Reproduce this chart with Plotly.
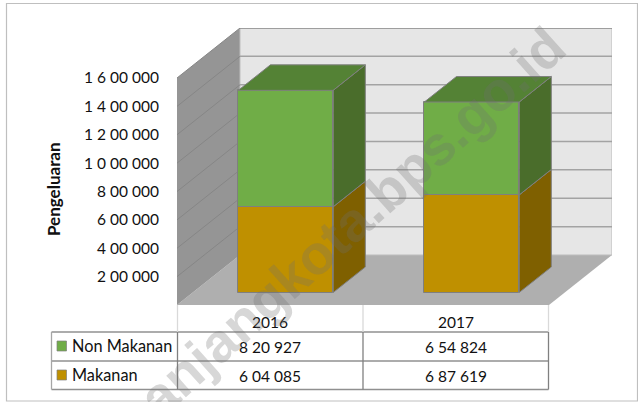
import plotly.graph_objects as go

# --- data ---
categories = ["2016", "2017"]
non_makanan = [820927, 654824]
makanan = [604085, 687619]
series_names = ["Non Makanan", "Makanan"]
non_makanan_labels = ["8 20 927", "6 54 824"]
makanan_labels = ["6 04 085", "6 87 619"]
tick_values = [200000, 400000, 600000, 800000, 1000000, 1200000, 1400000, 1600000]
tick_labels = ["2 00 000", "4 00 000", "6 00 000", "8 00 000", "1 0 00 000", "1 2 00 000", "1 4 00 000", "1 6 00 000"]
y_title = "Pengeluaran"
watermark = "anjangkota.bps.go.id"

# --- layout geometry ---
W, H = 638, 402
L, R, T, B = 177, 612, 28, 305
CAT_PX = 186.0
STEP_PX = 28.375
VAL_PER_PX = 200000 / STEP_PX
DX_PX, DY_PX = 63.0, 50.0
BAR_W = 0.51
D0, D1 = 0.25, 0.76
FONT = "Lato, Carlito, Calibri, sans-serif"

GREEN, GREEN_TOP, GREEN_SIDE = "#70AD47", "#548235", "#4A6D2B"
GOLD, GOLD_SIDE = "#BF9000", "#7F6000"
EDGE = "#7F7F7F"

xmin = -0.5
xmax = xmin + (R - L) / CAT_PX
ymax = (B - T) * VAL_PER_PX


def P(c, v, d):
    """Project (category position, value, depth) into the axis coordinates."""
    return c + d * DX_PX / CAT_PX, v + d * DY_PX * VAL_PER_PX


def px(x):
    return (x - L) / (R - L)


def py(y):
    return (B - y) / (B - T)


def poly_path(points):
    return "M " + " L ".join(f"{x},{y}" for x, y in points) + " Z"


def face(points, fill, name):
    return go.Scatter(
        x=[p[0] for p in points] + [points[0][0]],
        y=[p[1] for p in points] + [points[0][1]],
        mode="lines", fill="toself", fillcolor=fill,
        line=dict(color=EDGE, width=1), hoverinfo="skip", showlegend=False, name=name,
    )


shapes = []
# chart frame
shapes.append(dict(type="rect", xref="paper", yref="paper", x0=px(6.5), x1=px(637.5), y0=py(401), y1=py(3.5),
                   line=dict(color="#BFBFBF", width=1.2), fillcolor="rgba(0,0,0,0)", layer="below"))

# walls and floor
left_c, right_c = xmin, xmin + 2
shapes.append(dict(type="path", xref="x", yref="y", layer="below", fillcolor="#AFAFAF", line=dict(width=0),
                   path=poly_path([P(left_c, 0, 0), P(left_c, 0, 1), P(right_c, 0, 1), P(right_c, 0, 0)])))
shapes.append(dict(type="path", xref="x", yref="y", layer="below", fillcolor="#959595", line=dict(width=0),
                   path=poly_path([P(left_c, 0, 0), P(left_c, 0, 1), P(left_c, 1600000, 1), P(left_c, 1600000, 0)])))
shapes.append(dict(type="path", xref="x", yref="y", layer="below", fillcolor="#E6E6E6",
                   line=dict(color="#BDBDBD", width=1),
                   path=poly_path([P(left_c, 0, 1), P(right_c, 0, 1), P(right_c, 1600000, 1), P(left_c, 1600000, 1)])))
for i, v in enumerate(tick_values):
    x0, y0 = P(left_c, v, 0)
    x1, y1 = P(left_c, v, 1)
    x2, y2 = P(right_c, v, 1)
    shapes.append(dict(type="line", xref="x", yref="y", layer="below", x0=x0, y0=y0, x1=x1, y1=y1,
                       line=dict(color="#868686", width=1)))
    shapes.append(dict(type="line", xref="x", yref="y", layer="below", x0=x1, y0=y1, x1=x2, y1=y2,
                       line=dict(color="#8C8C8C" if v == 1600000 else "#A3A3A3", width=1.5)))

# data table grid
TABLE_X = [51.5, 177.5, 363, 548.5]
TABLE_Y = [332, 361, 389.5]
for y in TABLE_Y:
    shapes.append(dict(type="line", xref="paper", yref="paper", x0=px(TABLE_X[0]), x1=px(TABLE_X[-1]), y0=py(y), y1=py(y),
                       line=dict(color="#909090", width=1.3)))
shapes.append(dict(type="line", xref="paper", yref="paper", x0=px(TABLE_X[0]), x1=px(TABLE_X[0]), y0=py(332), y1=py(389.5),
                   line=dict(color="#A6A6A6", width=1.3)))
for x in TABLE_X[1:]:
    shapes.append(dict(type="line", xref="paper", yref="paper", x0=px(x), x1=px(x), y0=py(305), y1=py(332),
                       line=dict(color="#D9D9D9", width=1.3)))
    shapes.append(dict(type="line", xref="paper", yref="paper", x0=px(x), x1=px(x), y0=py(332), y1=py(389.5),
                       line=dict(color="#808080", width=1.3)))

# legend keys in the table
for cy, color in zip([346, 375], [GREEN, GOLD]):
    shapes.append(dict(type="rect", xref="paper", yref="paper", x0=px(57), x1=px(66.5), y0=py(cy - 5), y1=py(cy + 5),
                       fillcolor=color, line=dict(color=EDGE, width=0.7)))

fig = go.Figure()

xs = list(range(len(categories)))
totals = [m + n for m, n in zip(makanan, non_makanan)]
front_x = [P(c, 0, D0)[0] for c in xs]
base_shift = P(0, 0, D0)[1]

fig.add_trace(go.Bar(x=front_x, y=makanan, base=[base_shift] * 2, width=BAR_W, name=series_names[1],
                     marker=dict(color=GOLD, line=dict(color=EDGE, width=1)), showlegend=False))
fig.add_trace(go.Bar(x=front_x, y=non_makanan, base=[base_shift + m for m in makanan], width=BAR_W,
                     name=series_names[0], marker=dict(color=GREEN, line=dict(color=EDGE, width=1)), showlegend=False))

for c, m, t in zip(xs, makanan, totals):
    xl, xr = c - BAR_W / 2, c + BAR_W / 2
    fig.add_trace(face([P(xr, 0, D0), P(xr, m, D0), P(xr, m, D1), P(xr, 0, D1)], GOLD_SIDE, "Makanan side"))
    fig.add_trace(face([P(xr, m, D0), P(xr, t, D0), P(xr, t, D1), P(xr, m, D1)], GREEN_SIDE, "Non Makanan side"))
    fig.add_trace(face([P(xl, t, D0), P(xr, t, D0), P(xr, t, D1), P(xl, t, D1)], GREEN_TOP, "Non Makanan top"))

annotations = []
TXT = dict(family=FONT, size=15.5, color="#111111")
LEG = dict(family=FONT, size=16.3, color="#111111")
for c, a, b in zip(xs, non_makanan_labels, makanan_labels):
    annotations.append(dict(x=c, xref="x", y=py(346.5), yref="paper", text=a, showarrow=False, font=TXT,
                            xanchor="center", yanchor="middle"))
    annotations.append(dict(x=c, xref="x", y=py(375.5), yref="paper", text=b, showarrow=False, font=TXT,
                            xanchor="center", yanchor="middle"))
for cy, name in zip([346, 374.5], series_names):
    annotations.append(dict(x=px(69.5), xref="paper", y=py(cy), yref="paper", text=name, showarrow=False,
                            xanchor="left", yanchor="middle", font=LEG))
annotations.append(dict(x=px(53), xref="paper", y=py(189), yref="paper", text=f"<b>{y_title}</b>", showarrow=False,
                        textangle=-90, xanchor="center", yanchor="middle",
                        font=dict(family=FONT, size=17, color="#111111")))
annotations.append(dict(x=px(352), xref="paper", y=py(222), yref="paper", text=f"<b>{watermark}</b>", showarrow=False,
                        textangle=-42, xanchor="center", yanchor="middle",
                        font=dict(family="Liberation Sans, Arial, sans-serif", size=55,
                                  color="rgba(110,110,110,0.28)")))

fig.update_layout(
    width=W, height=H, autosize=False,
    margin=dict(l=L, r=W - R, t=T, b=H - B, pad=0),
    paper_bgcolor="white", plot_bgcolor="rgba(0,0,0,0)",
    barmode="overlay", bargap=0, showlegend=False,
    shapes=shapes, annotations=annotations,
    font=dict(family=FONT, size=15.5, color="#111111"),
    xaxis=dict(range=[xmin, xmax], tickmode="array", tickvals=xs, ticktext=categories,
               showgrid=False, zeroline=False, showline=False, ticks="outside", ticklen=3,
               tickcolor="rgba(0,0,0,0)", tickfont=TXT, fixedrange=True),
    yaxis=dict(range=[0, ymax], tickmode="array", tickvals=tick_values, ticktext=tick_labels,
               showgrid=False, zeroline=False, showline=False, ticks="outside", ticklen=14,
               tickcolor="rgba(0,0,0,0)", tickfont=TXT, fixedrange=True),
)

fig.write_html("out.html", config={"displayModeBar": False},
               post_script="document.body.style.margin='0';document.body.style.overflow='hidden';")
